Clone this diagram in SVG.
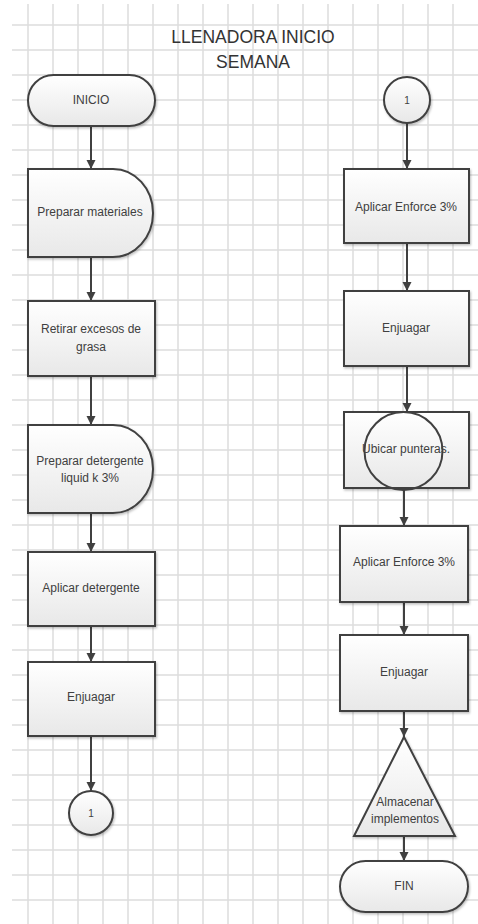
<svg xmlns="http://www.w3.org/2000/svg" width="478" height="924" viewBox="0 0 478 924">
<style>
.grid line{stroke:#dcdcdc;stroke-width:1.5}
.node{fill:url(#g);stroke:#404040;stroke-width:2;filter:url(#sh)}
.t{font-family:"Liberation Sans",Arial,sans-serif;font-size:12px;fill:#404040;text-anchor:middle}
.title{font-family:"Liberation Sans",Arial,sans-serif;font-size:17.5px;fill:#333;text-anchor:middle}
.conn line{stroke:#404040;stroke-width:2;marker-end:url(#ah)}
</style>
<defs>
<linearGradient id="g" x1="0" y1="0" x2="0" y2="1"><stop offset="0" stop-color="#ffffff"/><stop offset="1" stop-color="#e8e8e8"/></linearGradient>
<filter id="sh" x="-10%" y="-10%" width="130%" height="130%"><feDropShadow dx="1" dy="1.5" stdDeviation="1" flood-color="#000" flood-opacity="0.25"/></filter>
<marker id="ah" markerWidth="10" markerHeight="10" refX="9" refY="5" orient="auto" markerUnits="userSpaceOnUse"><path d="M0,0.5 L9,5 L0,9.5 Z" fill="#404040"/></marker>
</defs>
<rect width="478" height="924" fill="#fff"/>
<g class="grid">
<line x1="28" y1="4" x2="28" y2="924"/><line x1="53" y1="4" x2="53" y2="924"/><line x1="78" y1="4" x2="78" y2="924"/><line x1="103" y1="4" x2="103" y2="924"/><line x1="128" y1="4" x2="128" y2="924"/><line x1="153" y1="4" x2="153" y2="924"/><line x1="178" y1="4" x2="178" y2="924"/><line x1="203" y1="4" x2="203" y2="924"/><line x1="228" y1="4" x2="228" y2="924"/><line x1="253" y1="4" x2="253" y2="924"/><line x1="278" y1="4" x2="278" y2="924"/><line x1="303" y1="4" x2="303" y2="924"/><line x1="328" y1="4" x2="328" y2="924"/><line x1="353" y1="4" x2="353" y2="924"/><line x1="378" y1="4" x2="378" y2="924"/><line x1="403" y1="4" x2="403" y2="924"/><line x1="428" y1="4" x2="428" y2="924"/><line x1="453" y1="4" x2="453" y2="924"/>
<line x1="12" y1="25" x2="478" y2="25"/><line x1="12" y1="50" x2="478" y2="50"/><line x1="12" y1="75" x2="478" y2="75"/><line x1="12" y1="100" x2="478" y2="100"/><line x1="12" y1="125" x2="478" y2="125"/><line x1="12" y1="150" x2="478" y2="150"/><line x1="12" y1="175" x2="478" y2="175"/><line x1="12" y1="200" x2="478" y2="200"/><line x1="12" y1="225" x2="478" y2="225"/><line x1="12" y1="250" x2="478" y2="250"/><line x1="12" y1="275" x2="478" y2="275"/><line x1="12" y1="300" x2="478" y2="300"/><line x1="12" y1="325" x2="478" y2="325"/><line x1="12" y1="350" x2="478" y2="350"/><line x1="12" y1="375" x2="478" y2="375"/><line x1="12" y1="400" x2="478" y2="400"/><line x1="12" y1="425" x2="478" y2="425"/><line x1="12" y1="450" x2="478" y2="450"/><line x1="12" y1="475" x2="478" y2="475"/><line x1="12" y1="500" x2="478" y2="500"/><line x1="12" y1="525" x2="478" y2="525"/><line x1="12" y1="550" x2="478" y2="550"/><line x1="12" y1="575" x2="478" y2="575"/><line x1="12" y1="600" x2="478" y2="600"/><line x1="12" y1="625" x2="478" y2="625"/><line x1="12" y1="650" x2="478" y2="650"/><line x1="12" y1="675" x2="478" y2="675"/><line x1="12" y1="700" x2="478" y2="700"/><line x1="12" y1="725" x2="478" y2="725"/><line x1="12" y1="750" x2="478" y2="750"/><line x1="12" y1="775" x2="478" y2="775"/><line x1="12" y1="800" x2="478" y2="800"/><line x1="12" y1="825" x2="478" y2="825"/><line x1="12" y1="850" x2="478" y2="850"/><line x1="12" y1="875" x2="478" y2="875"/><line x1="12" y1="900" x2="478" y2="900"/>
</g>
<g id="title"><text class="title" x="253" y="43">LLENADORA INICIO</text><text class="title" x="253" y="68">SEMANA</text></g>
<g class="conn" id="connectors">
<line x1="91" y1="126" x2="91" y2="169"/>
<line x1="91" y1="257" x2="91" y2="301"/>
<line x1="91" y1="376" x2="91" y2="425"/>
<line x1="91" y1="513" x2="91" y2="552"/>
<line x1="91" y1="626" x2="91" y2="662"/>
<line x1="91" y1="736" x2="91" y2="791"/>
<line x1="407" y1="123" x2="407" y2="169"/>
<line x1="407" y1="243" x2="407" y2="291"/>
<line x1="407" y1="366" x2="407" y2="412"/>
<line x1="404" y1="490" x2="404" y2="526"/>
<line x1="404" y1="602" x2="404" y2="635"/>
<line x1="404" y1="711" x2="404" y2="737"/>
<line x1="404" y1="836" x2="404" y2="861"/>
</g>
<g id="inicio"><rect class="node" x="28" y="75" width="127" height="51" rx="25.5"/><text class="t" x="91" y="104">INICIO</text></g>
<g id="preparar-materiales"><path class="node" d="M28,169 H113 A40,44 0 0 1 113,257 H28 Z"/><text class="t" x="90" y="216">Preparar materiales</text></g>
<g id="retirar"><rect class="node" x="28" y="301" width="127" height="75"/><text class="t" x="91" y="333">Retirar excesos de</text><text class="t" x="91" y="351">grasa</text></g>
<g id="preparar-detergente"><path class="node" d="M28,425 H113 A40,44 0 0 1 113,513 H28 Z"/><text class="t" x="90" y="465">Preparar detergente</text><text class="t" x="90" y="482">liquid k 3%</text></g>
<g id="aplicar-detergente"><rect class="node" x="28" y="552" width="127" height="74"/><text class="t" x="91" y="592">Aplicar detergente</text></g>
<g id="enjuagar1"><rect class="node" x="28" y="662" width="127" height="74"/><text class="t" x="91" y="701">Enjuagar</text></g>
<g id="con1-left"><circle class="node" cx="91" cy="813" r="22"/><text class="t" x="91" y="817" style="font-size:10px">1</text></g>
<g id="con1-right"><circle class="node" cx="407" cy="100" r="23"/><text class="t" x="407" y="104" style="font-size:10px">1</text></g>
<g id="aplicar-enforce1"><rect class="node" x="344" y="169" width="125" height="74"/><text class="t" x="406" y="211">Aplicar Enforce 3%</text></g>
<g id="enjuagar2"><rect class="node" x="344" y="291" width="125" height="75"/><text class="t" x="406" y="332">Enjuagar</text></g>
<g id="ubicar"><rect class="node" x="344" y="412" width="125" height="76"/><circle cx="403.5" cy="451" r="39" fill="none" stroke="#404040" stroke-width="2"/><text class="t" x="406" y="453">Ubicar punteras.</text></g>
<g id="aplicar-enforce2"><rect class="node" x="340" y="526" width="128" height="76"/><text class="t" x="404" y="566">Aplicar Enforce 3%</text></g>
<g id="enjuagar3"><rect class="node" x="340" y="635" width="128" height="76"/><text class="t" x="404" y="676">Enjuagar</text></g>
<g id="almacenar"><path class="node" d="M404,737 L455,836 H354 Z"/><text class="t" x="405" y="806">Almacenar</text><text class="t" x="405" y="823">implementos</text></g>
<g id="fin"><rect class="node" x="340" y="861" width="128" height="51" rx="25.5"/><text class="t" x="404" y="890">FIN</text></g>
</svg>
